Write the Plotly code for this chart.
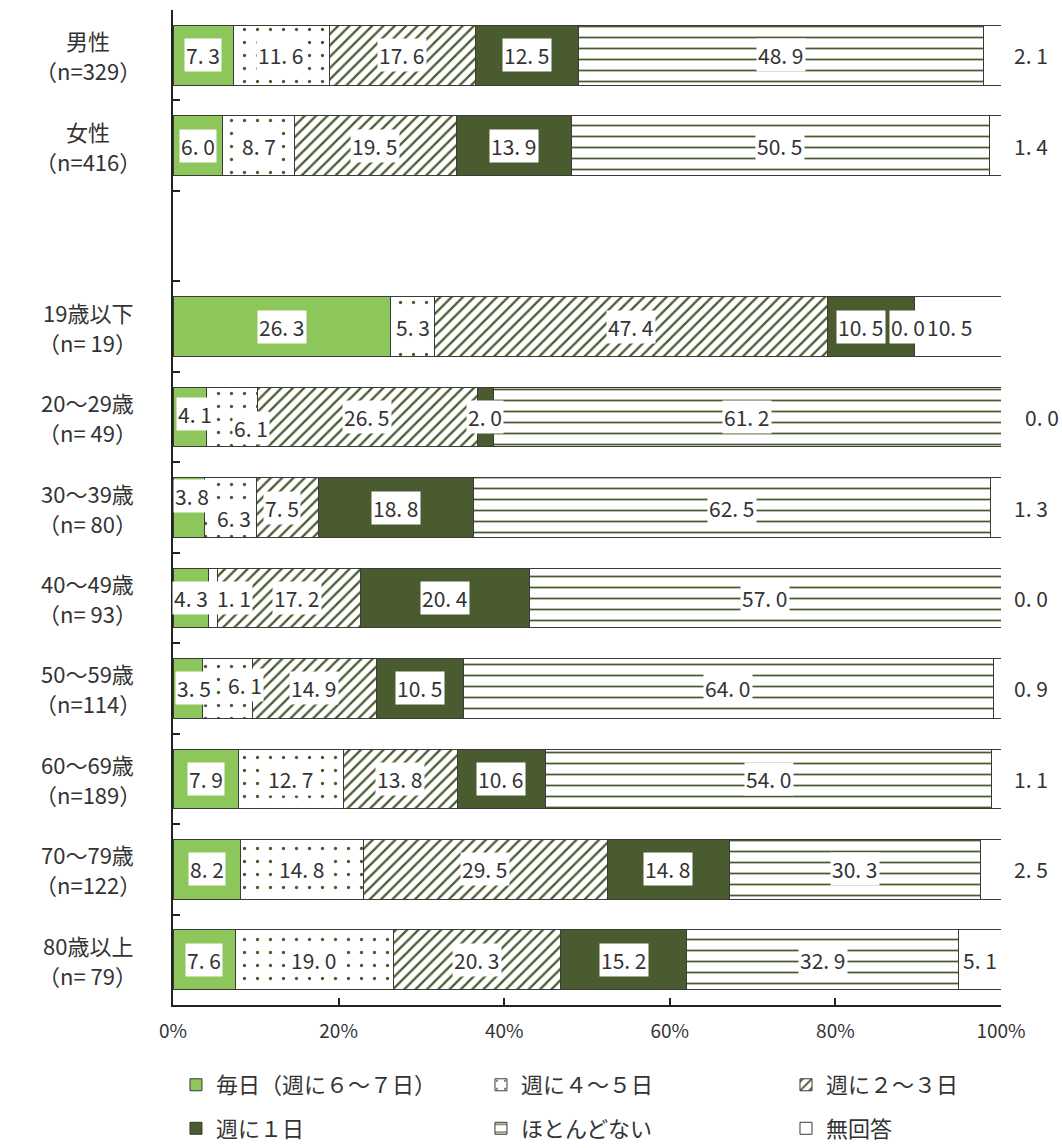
import plotly.graph_objects as go

# ---- data -------------------------------------------------------------
categories = ["男性", "女性", "19歳以下", "20～29歳", "30～39歳",
              "40～49歳", "50～59歳", "60～69歳", "70～79歳", "80歳以上"]
sample_sizes = ["329", "416", " 19", " 49", " 80", " 93", "114", "189", "122", " 79"]

series_names = ["毎日（週に６～７日）", "週に４～５日", "週に２～３日",
                "週に１日", "ほとんどない", "無回答"]

daily = [7.3, 6.0, 26.3, 4.1, 3.8, 4.3, 3.5, 7.9, 8.2, 7.6]
days_4_5 = [11.6, 8.7, 5.3, 6.1, 6.3, 1.1, 6.1, 12.7, 14.8, 19.0]
days_2_3 = [17.6, 19.5, 47.4, 26.5, 7.5, 17.2, 14.9, 13.8, 29.5, 20.3]
day_1 = [12.5, 13.9, 10.5, 2.0, 18.8, 20.4, 10.5, 10.6, 14.8, 15.2]
rarely = [48.9, 50.5, 0.0, 61.2, 62.5, 57.0, 64.0, 54.0, 30.3, 32.9]
no_answer = [2.1, 1.4, 10.5, 0.0, 1.3, 0.0, 0.9, 1.1, 2.5, 5.1]

series_values = [daily, days_4_5, days_2_3, day_1, rarely, no_answer]

x_ticks = [0, 20, 40, 60, 80, 100]
x_tick_labels = ["0%", "20%", "40%", "60%", "80%", "100%"]

# ---- styling ----------------------------------------------------------
FONT = "Noto Sans CJK JP"
TEXT = "#333333"
LIGHT = "#8DC75B"
DARK = "#4A5B2F"
EDGE = "#3A3A3A"

# rows 0-1: gender, row 2 left empty, rows 3-10: age groups
row_pos = [0, 1] + [i + 1 for i in range(2, len(categories))]

patterns = [
    dict(shape=""),
    dict(shape=".", fgcolor=DARK, bgcolor="white", fgopacity=1, size=13, solidity=0.05),
    dict(shape="/", fgcolor=DARK, bgcolor="white", fgopacity=1, size=8, solidity=0.28),
    dict(shape=""),
    dict(shape="-", fgcolor=DARK, bgcolor="white", fgopacity=1, size=11, solidity=0.16),
    dict(shape=""),
]
fills = [LIGHT, "white", "white", DARK, "white", "white"]

# one single-entry legend per slot of the 3 x 2 key grid (container coords)
legend_ids = ["legend", "legend2", "legend3", "legend4", "legend5", "legend6"]
legend_x = [0.1657, 0.4529, 0.7401, 0.1657, 0.4529, 0.7401]
legend_y = [0.0549, 0.0549, 0.0549, 0.0170, 0.0170, 0.0170]

fig = go.Figure()
for name, vals, fill, pat, lg in zip(series_names, series_values, fills, patterns, legend_ids):
    fig.add_trace(go.Bar(
        y=row_pos, x=vals, name=name, orientation="h",
        width=0.66, showlegend=True,
        marker=dict(color=fill, pattern=pat, line=dict(color=EDGE, width=1)),
        legend=lg, hoverinfo="skip",
    ))

# ---- value labels -----------------------------------------------------
# small pixel nudges for crowded labels: (row, series) -> (dx, dy)
nudges = {
    (2, 3): (-10, 0), (2, 4): (-6, 0), (2, 5): (-8, 0),
    (3, 0): (5, -3), (3, 1): (19, 11), (3, 5): (11, 0),
    (4, 0): (3, -12), (4, 1): (4, 10), (4, 2): (-5, 0),
    (5, 1): (21, 0), (5, 2): (8, 0),
    (6, 0): (6, 0), (6, 1): (18, -3),
}

LABEL_FONT = dict(family=FONT, size=21, color=TEXT)
annotations = []
for r, pos in enumerate(row_pos):
    row_vals = [s[r] for s in series_values]
    total = sum(row_vals)
    left = 0.0
    for k, v in enumerate(row_vals):
        share = v / total * 100
        dx, dy = nudges.get((r, k), (0, 0))
        label = f"{v:.1f}".replace(".", ". ")
        outside = (k == len(row_vals) - 1) and v < 5
        if outside:
            annotations.append(dict(
                x=1.013, y=pos, xref="paper", yref="y", text=label,
                xanchor="left", showarrow=False, xshift=dx,
                font=LABEL_FONT))
        else:
            annotations.append(dict(
                x=left + share / 2, y=pos, xref="x", yref="y", text=label,
                showarrow=False, xshift=dx, yshift=-dy,
                bgcolor="white", borderpad=1, font=LABEL_FONT))
        left += share

# category labels on the left (name above, sample size below)
CAT_FONT = dict(family=FONT, size=22, color=TEXT)
for cat, n, pos in zip(categories, sample_sizes, row_pos):
    annotations.append(dict(
        x=-0.103, y=pos, xref="paper", yref="y", text=cat,
        xanchor="center", yanchor="middle", yshift=15, showarrow=False,
        font=CAT_FONT))
    annotations.append(dict(
        x=-0.103, y=pos, xref="paper", yref="y", text=f"（n={n}）",
        xanchor="center", yanchor="middle", yshift=-15, showarrow=False,
        font=CAT_FONT))

legend_layout = {}
for lg, lx, ly in zip(legend_ids, legend_x, legend_y):
    legend_layout[lg] = dict(
        x=lx, y=ly, xref="container", yref="container",
        xanchor="left", yanchor="middle", orientation="h",
        bgcolor="rgba(0,0,0,0)", font=dict(family=FONT, size=22, color=TEXT))

fig.update_layout(
    barmode="stack", barnorm="percent",
    width=1062, height=1148,
    margin=dict(l=173, r=61, t=10, b=143, autoexpand=False),
    paper_bgcolor="white", plot_bgcolor="white",
    font=dict(family=FONT, color=TEXT),
    showlegend=True,
    annotations=annotations,
    **legend_layout,
)
fig.update_xaxes(
    range=[0, 100], tickvals=x_ticks, ticktext=x_tick_labels,
    ticks="inside", ticklen=7, tickcolor="#222", tickwidth=1.5,
    showline=True, linecolor="#222", linewidth=2, showgrid=False, zeroline=False,
    ticklabelstandoff=8,
    tickfont=dict(family=FONT, size=19, color=TEXT),
)
fig.update_yaxes(
    range=[10.5, -0.5], tickvals=[i - 0.5 for i in range(12)],
    ticks="inside", ticklen=7, tickcolor="#222", tickwidth=1.5,
    showticklabels=False, showline=True, linecolor="#222", linewidth=2,
    showgrid=False, zeroline=False,
)

fig.write_html("out.html")
